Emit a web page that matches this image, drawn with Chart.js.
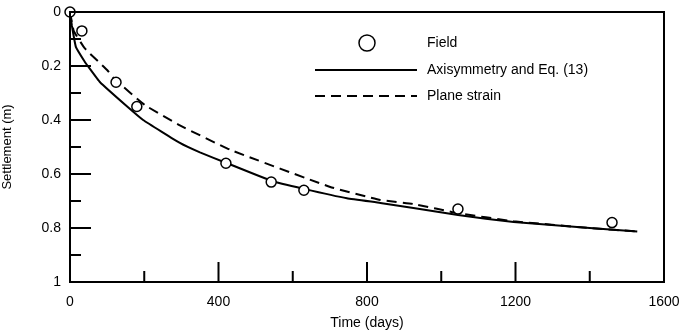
<!DOCTYPE html>
<html>
<head>
<meta charset="utf-8">
<script src="https://cdn.jsdelivr.net/npm/chart.js@4/dist/chart.umd.min.js"></script>
<style>
html,body{margin:0;padding:0;background:#fff;}
#wrap{width:685px;height:335px;position:relative;}
</style>
</head>
<body>
<div id="wrap"><canvas id="c" width="685" height="335"></canvas></div>
<script>
// ---- data ----
const fieldDays = [0, 32, 124, 180, 420, 542, 630, 1045, 1460];
const fieldSettlement = [0, 0.07, 0.26, 0.35, 0.56, 0.63, 0.66, 0.73, 0.78];

const axiDays = [0, 5, 16, 40, 48, 81, 154, 197, 296, 350, 423, 542, 630, 746, 836, 925, 1045, 1195, 1400, 1528];
const axiSettlement = [0, 0.05, 0.13, 0.185, 0.2, 0.26, 0.35, 0.4, 0.485, 0.52, 0.56, 0.625, 0.655, 0.69, 0.707, 0.726, 0.752, 0.778, 0.8, 0.813];

const planeDays = [0, 10, 40, 100, 121, 202, 296, 431, 701, 836, 925, 1045, 1195, 1400, 1528];
const planeSettlement = [0, 0.07, 0.135, 0.215, 0.25, 0.345, 0.42, 0.51, 0.648, 0.696, 0.711, 0.745, 0.775, 0.8, 0.813];

const xTicks = [0, 400, 800, 1200, 1600];
const xMinorTicks = [200, 600, 1000, 1400];
const yTicks = [0, 0.2, 0.4, 0.6, 0.8, 1];
const yMinorTicks = [0.1, 0.3, 0.5, 0.7, 0.9];

const seriesNames = ['Field', 'Axisymmetry and Eq. (13)', 'Plane strain'];
const xTitle = 'Time (days)';
const yTitle = 'Settlement (m)';

const pts = (xs, ys) => xs.map((x, i) => ({x: x, y: ys[i]}));
const FONT = '"Liberation Sans", Arial, Helvetica, sans-serif';

const framePlugin = {
  id: 'frame',
  afterDraw(chart) {
    const ctx = chart.ctx, a = chart.chartArea;
    const xs = chart.scales.x, ys = chart.scales.y;
    ctx.save();
    ctx.strokeStyle = '#000';
    ctx.lineWidth = 2;
    ctx.beginPath();
    ctx.rect(a.left, a.top, a.right - a.left, a.bottom - a.top);
    ctx.stroke();
    ctx.beginPath();
    xTicks.forEach(v => { const p = xs.getPixelForValue(v); ctx.moveTo(p, a.bottom); ctx.lineTo(p, a.bottom - 20); });
    xMinorTicks.forEach(v => { const p = xs.getPixelForValue(v); ctx.moveTo(p, a.bottom); ctx.lineTo(p, a.bottom - 11); });
    yTicks.forEach(v => { const p = ys.getPixelForValue(v); ctx.moveTo(a.left, p); ctx.lineTo(a.left + 21, p); });
    yMinorTicks.forEach(v => { const p = ys.getPixelForValue(v); ctx.moveTo(a.left, p); ctx.lineTo(a.left + 11, p); });
    ctx.stroke();

    // legend
    ctx.font = '14px ' + FONT;
    ctx.fillStyle = '#000';
    ctx.textBaseline = 'middle';
    ctx.textAlign = 'left';
    ctx.lineWidth = 1.5;
    ctx.beginPath();
    ctx.arc(367, 43, 8, 0, Math.PI * 2);
    ctx.stroke();
    ctx.fillText(seriesNames[0], 427, 43);
    ctx.lineWidth = 2;
    ctx.beginPath(); ctx.moveTo(315, 70); ctx.lineTo(417, 70); ctx.stroke();
    ctx.fillText(seriesNames[1], 427, 70);
    ctx.setLineDash([10, 6]);
    ctx.beginPath(); ctx.moveTo(315, 96); ctx.lineTo(417, 96); ctx.stroke();
    ctx.setLineDash([]);
    ctx.fillText(seriesNames[2], 427, 96);
    ctx.restore();
  }
};

new Chart(document.getElementById('c'), {
  type: 'scatter',
  data: {
    datasets: [
      {
        label: seriesNames[0],
        data: pts(fieldDays, fieldSettlement),
        showLine: false,
        pointStyle: 'circle',
        pointRadius: 5,
        pointBorderWidth: 1.5,
        pointBorderColor: '#000',
        pointBackgroundColor: '#fff',
        clip: false,
        order: 0
      },
      {
        label: seriesNames[1],
        data: pts(axiDays, axiSettlement),
        showLine: true,
        borderColor: '#000',
        borderWidth: 2,
        pointRadius: 0,
        tension: 0.1,
        order: 1
      },
      {
        label: seriesNames[2],
        data: pts(planeDays, planeSettlement),
        showLine: true,
        borderColor: '#000',
        borderWidth: 2,
        borderDash: [10, 6],
        pointRadius: 0,
        tension: 0.1,
        order: 2
      }
    ]
  },
  options: {
    responsive: false,
    animation: false,
    layout: { padding: { top: 12, right: 21, left: 0, bottom: 0 } },
    plugins: { legend: { display: false }, tooltip: { enabled: false } },
    scales: {
      x: {
        type: 'linear', min: 0, max: 1600,
        afterBuildTicks: s => { s.ticks = xTicks.map(v => ({value: v})); },
        afterFit: s => { s.height = 53; s.paddingLeft = 0; s.paddingRight = 0; },
        grid: { display: false, drawTicks: false },
        border: { display: false },
        ticks: { color: '#000', padding: 12, font: { family: FONT, size: 14 }, maxRotation: 0,
                 callback: v => String(v) },
        title: { display: true, text: xTitle, color: '#000', padding: { top: 0, bottom: 3 },
                 font: { family: FONT, size: 14 } }
      },
      y: {
        type: 'linear', min: 0, max: 1, reverse: true,
        afterBuildTicks: s => { s.ticks = yTicks.map(v => ({value: v})); },
        afterFit: s => { s.width = 70; s.paddingTop = 0; s.paddingBottom = 0; },
        grid: { display: false, drawTicks: false },
        border: { display: false },
        ticks: { color: '#000', padding: 9, font: { family: FONT, size: 14 },
                 callback: v => String(Math.round(v * 10) / 10) },
        title: { display: true, text: yTitle, color: '#000', padding: { top: 0, bottom: 4 },
                 font: { family: FONT, size: 13 } }
      }
    }
  },
  plugins: [framePlugin]
});
</script>
</body>
</html>
